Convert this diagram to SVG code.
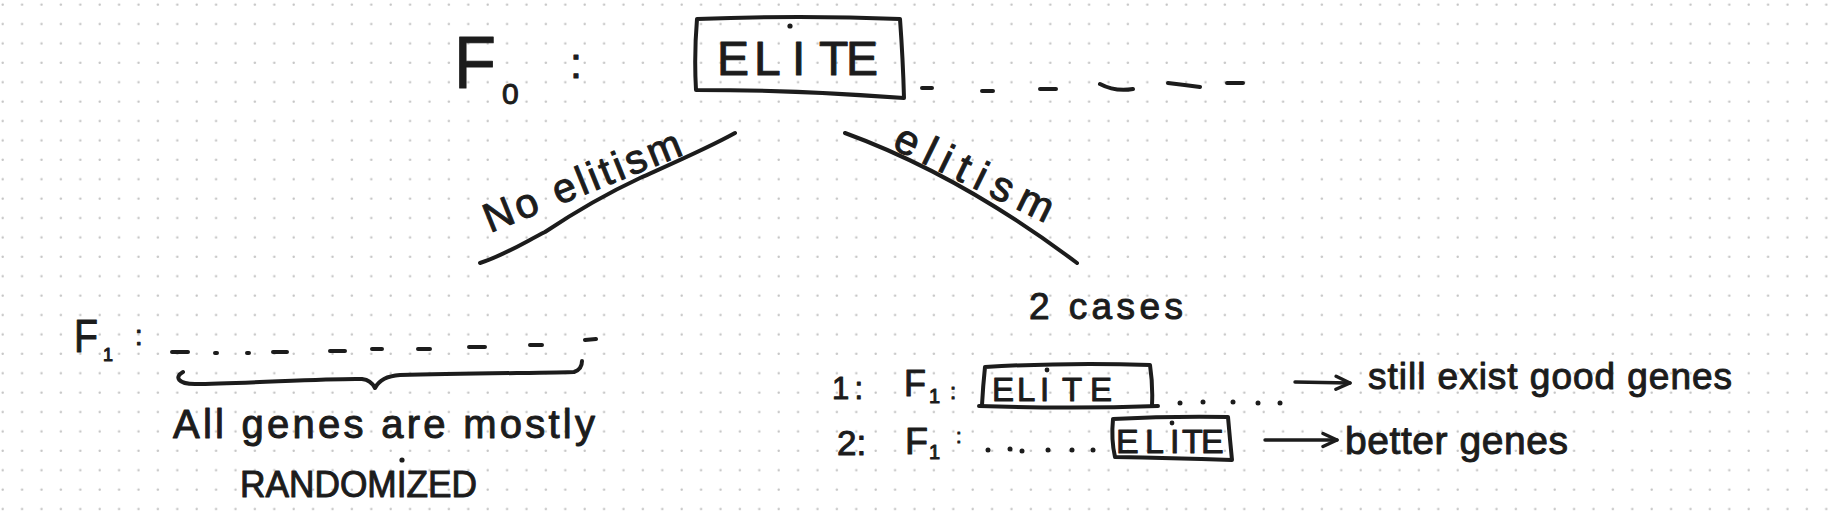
<svg xmlns="http://www.w3.org/2000/svg" width="1834" height="514" viewBox="0 0 1834 514">
<defs>
<pattern id="dots" x="0" y="0" width="19.4" height="19.4" patternUnits="userSpaceOnUse">
<circle cx="2.7" cy="4.7" r="1.2" fill="#c4c4c4"/>
</pattern>
<marker id="ah" viewBox="0 0 18 18" refX="16" refY="9" markerWidth="18" markerHeight="18" markerUnits="userSpaceOnUse" orient="auto">
<path d="M2,2.5 L16,9 L2,15.5" fill="none" stroke="#1c1c1c" stroke-width="3.4" stroke-linecap="round" stroke-linejoin="round"/>
</marker>
</defs>
<style>
.ink{fill:none;stroke:#1c1c1c;stroke-width:4;stroke-linecap:round;stroke-linejoin:round}
.thin{stroke-width:3.4}
.t{font-family:"Liberation Sans",Arial,sans-serif;fill:#1c1c1c;stroke:#1c1c1c;stroke-width:1;stroke-linejoin:round}
.dot{fill:#1c1c1c}
</style>
<rect x="0" y="0" width="1834" height="514" fill="#ffffff"/>
<rect x="0" y="0" width="1834" height="514" fill="url(#dots)"/>

<g id="f0-label">
<text class="t" x="454" y="88" font-size="74" textLength="42" lengthAdjust="spacingAndGlyphs">F</text>
<text class="t" x="502" y="104" font-size="30">0</text>
<text class="t" x="570" y="78" font-size="43">:</text>
</g>

<g id="node-elite-f0">
<path class="ink" d="M697,19 Q800,15 900,19 Q903,60 904,98 Q800,90 696,90 Q694,55 697,19 Z"/>
<text class="t" y="75" font-size="48" x="717 754 792 819 846">ELITE</text>
<circle class="dot" cx="790" cy="26" r="2.6"/>
<path class="ink" d="M922,88 L932,88 M982,91 L993,91 M1040,89 L1056,89 M1100,84 Q1115,92 1133,89 M1168,83 Q1185,85 1200,87 M1227,83 L1243,83"/>
</g>

<g id="connectors">
<path class="ink" stroke-width="4.5" d="M480,263 C505,255 525,242 545,232 C575,212 610,192 640,178 C680,160 710,147 735,133"/>
<path class="ink" stroke-width="4.5" d="M845,133 Q960,175 1077,263"/>
<path class="ink thin" d="M1295,382 L1350,383" marker-end="url(#ah)"/>
<path class="ink thin" d="M1265,440 L1337,440" marker-end="url(#ah)"/>
</g>

<g id="label-no-elitism">
<text class="t" font-size="41" transform="translate(490,233) rotate(-22)" textLength="210" lengthAdjust="spacing">No elitism</text>
</g>

<g id="label-elitism">
<text class="t" font-size="42" transform="translate(891,148) rotate(26)" textLength="172" lengthAdjust="spacing">elitism</text>
</g>

<g id="node-f1-no-elitism">
<text class="t" x="74" y="352" font-size="47" textLength="24" lengthAdjust="spacingAndGlyphs">F</text>
<text class="t" x="103" y="361" font-size="18">1</text>
<text class="t" x="135" y="345" font-size="27">:</text>
<path class="ink" d="M172,352 L188,352 M215,353 L217,353 M247,353 L249,353 M273,352 L287,352 M330,351 L345,351 M372,349 L382,349 M418,349 L430,349 M469,347 L485,347 M530,345 L542,345 M585,340 L596,339"/>
<path class="ink" d="M183,372 C174,377 178,384 195,384 C240,384 330,378 362,379 C370,380 373,384 375,388 C378,382 385,376 400,375 C470,373 560,373 574,372 C580,370 582,366 582,361"/>
<text class="t" x="173" y="438" font-size="40" textLength="422" lengthAdjust="spacing">All genes are mostly</text>
<text class="t" x="240" y="497" font-size="36" textLength="237" lengthAdjust="spacingAndGlyphs">RANDOMIZED</text>
<circle class="dot" cx="402" cy="460" r="2.6"/>
</g>

<g id="node-cases">
<text class="t" x="1029" y="319" font-size="37" textLength="154" lengthAdjust="spacing">2 cases</text>
</g>

<g id="node-case1">
<text class="t" x="832" y="399" font-size="31" textLength="31" lengthAdjust="spacing">1:</text>
<text class="t" x="904" y="396" font-size="37" textLength="22" lengthAdjust="spacingAndGlyphs">F</text>
<text class="t" x="929" y="403" font-size="20">1</text>
<text class="t" x="950" y="399" font-size="22">:</text>
<path class="ink" d="M985,367 Q1070,362 1150,365 Q1153,385 1152,405 M979,406 Q1070,409 1158,406 M985,367 Q983,386 982,405"/>
<text class="t" y="401" font-size="33" x="992 1017 1040 1062 1090">ELITE</text>
<circle class="dot" cx="1047" cy="370" r="2.4"/>
<circle class="dot" cx="1180" cy="403" r="2.5"/>
<circle class="dot" cx="1203" cy="402" r="2.5"/>
<circle class="dot" cx="1233" cy="402" r="2.5"/>
<circle class="dot" cx="1258" cy="403" r="2.5"/>
<circle class="dot" cx="1280" cy="403" r="2.5"/>
</g>

<g id="node-case1-result">
<text class="t" x="1368" y="389" font-size="37" textLength="364" lengthAdjust="spacing">still exist good genes</text>
</g>

<g id="node-case2">
<text class="t" x="837" y="455" font-size="35">2:</text>
<text class="t" x="905" y="454" font-size="37" textLength="23" lengthAdjust="spacingAndGlyphs">F</text>
<text class="t" x="929" y="459" font-size="20">1</text>
<text class="t" x="956" y="443" font-size="20">:</text>
<circle class="dot" cx="988" cy="450" r="2.5"/>
<circle class="dot" cx="1010" cy="449" r="2.5"/>
<circle class="dot" cx="1022" cy="451" r="2.5"/>
<circle class="dot" cx="1048" cy="450" r="2.5"/>
<circle class="dot" cx="1072" cy="450" r="2.5"/>
<circle class="dot" cx="1093" cy="450" r="2.5"/>
<path class="ink" d="M1113,419 Q1170,416 1228,417 Q1230,440 1232,460 Q1170,458 1115,457 Q1111,440 1113,419 Z"/>
<text class="t" y="453" font-size="34" x="1116 1145 1170 1182 1201">ELITE</text>
<circle class="dot" cx="1172" cy="423" r="2.4"/>
</g>

<g id="node-case2-result">
<text class="t" x="1345" y="454" font-size="39" textLength="223" lengthAdjust="spacing">better genes</text>
</g>
</svg>
